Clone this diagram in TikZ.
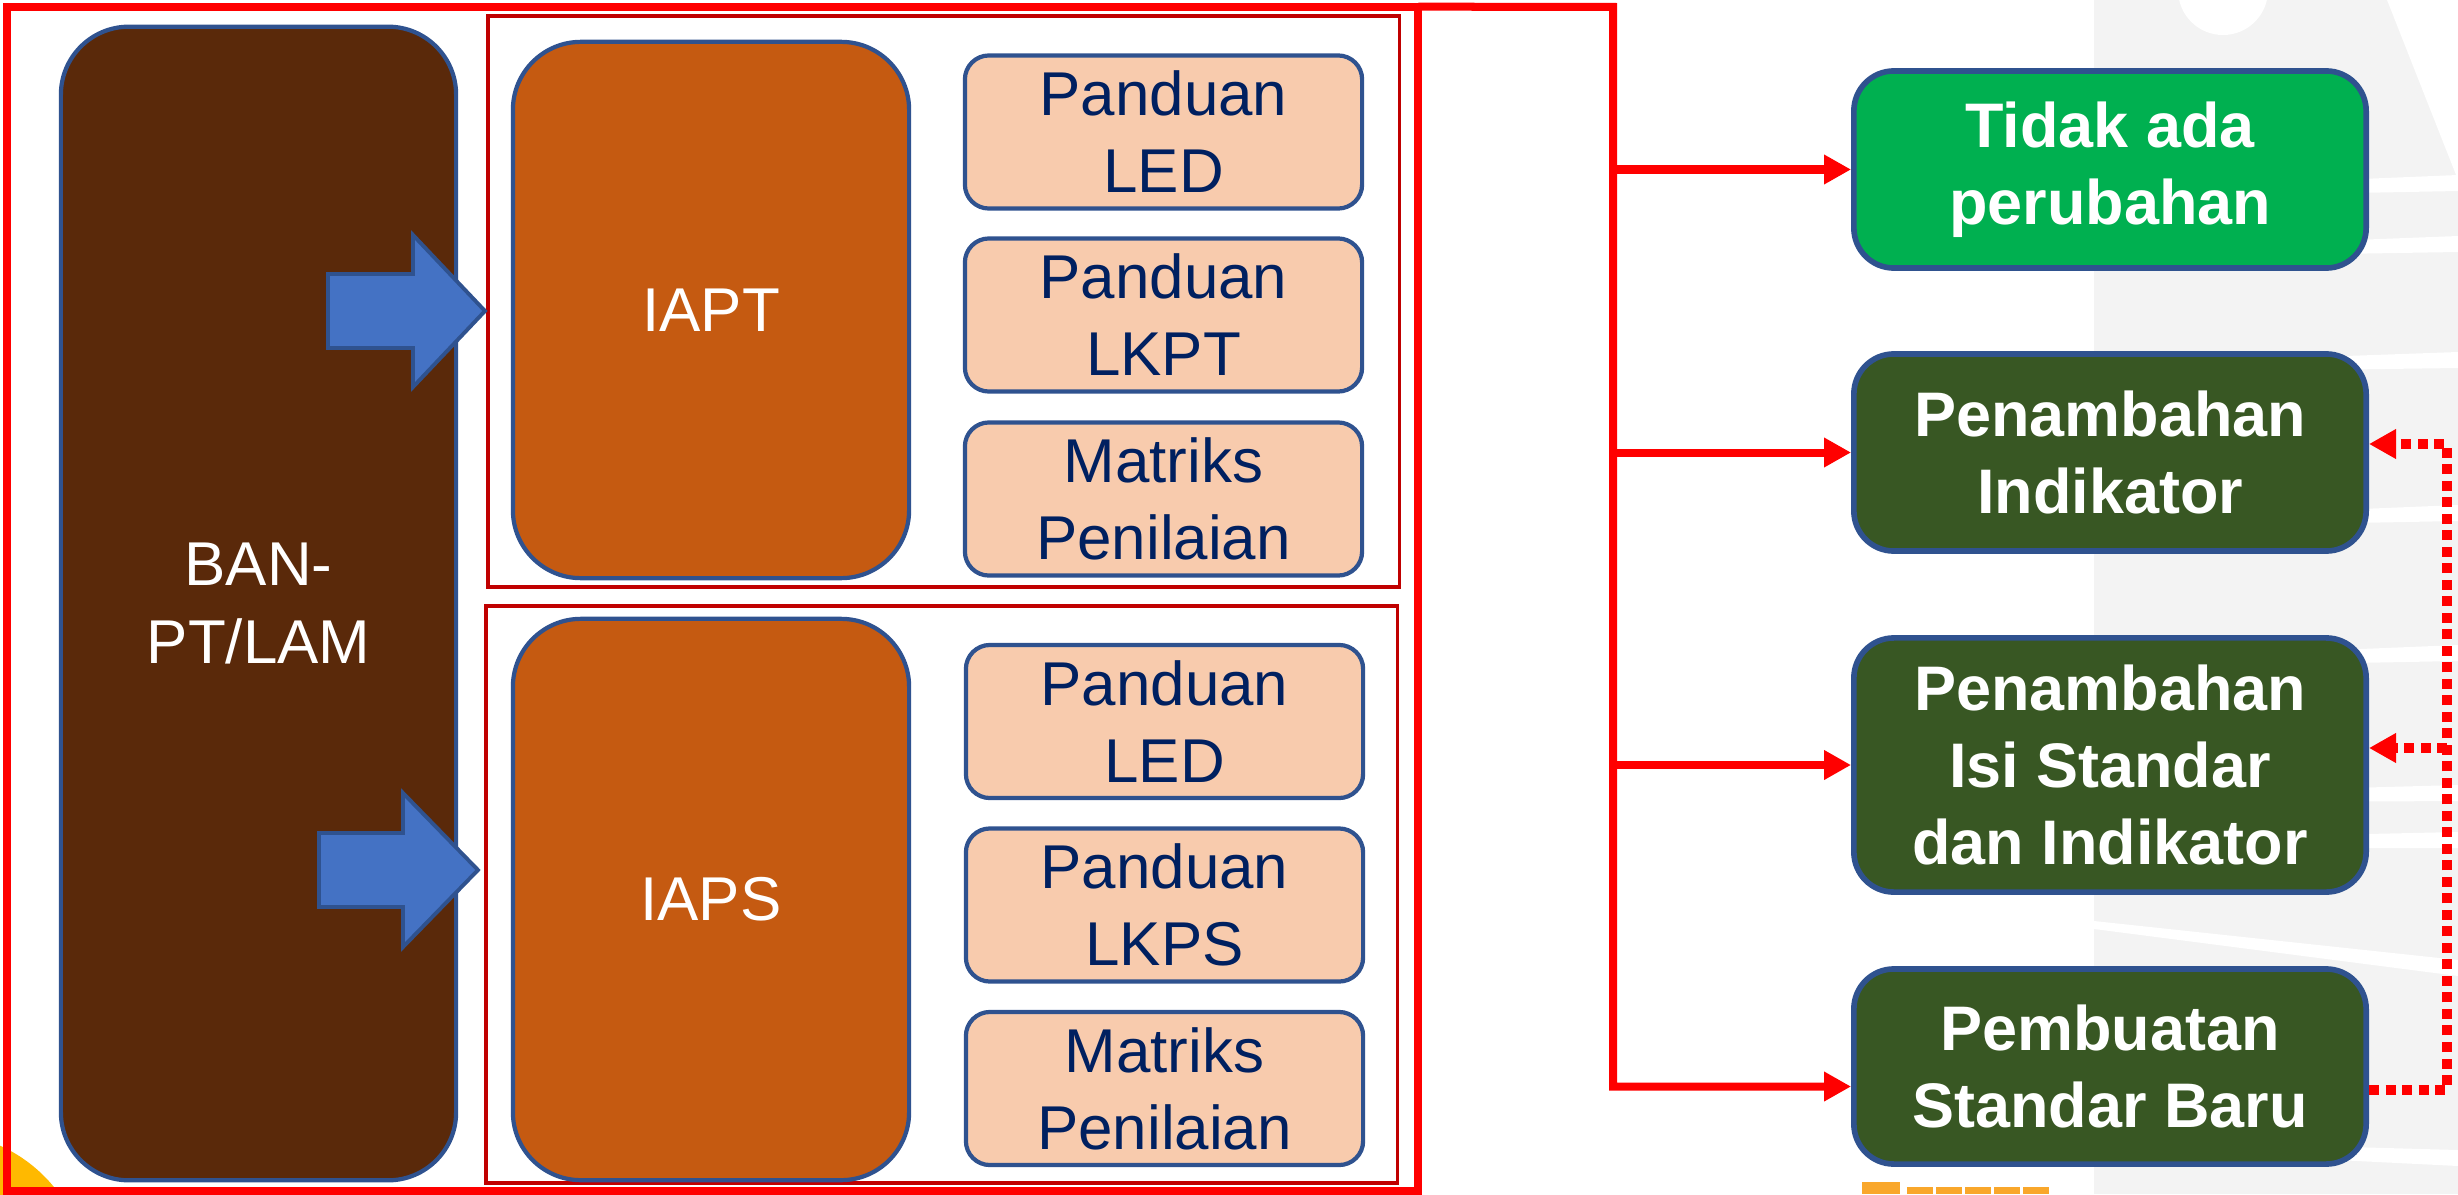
\documentclass[tikz,border=0pt]{standalone}
\usepackage{xcolor}
\usepackage{fontspec}
\setmainfont{Liberation Sans}
\usepackage{tikz}
\usetikzlibrary{positioning,arrows.meta}

\definecolor{banbrown}{HTML}{5A290A}
\definecolor{iaorange}{HTML}{C55A11}
\definecolor{peach}{HTML}{F8CBAD}
\definecolor{navy}{HTML}{002060}
\definecolor{edgeblue}{HTML}{2F528F}
\definecolor{arrowblue}{HTML}{4472C4}
\definecolor{okgreen}{HTML}{00B050}
\definecolor{darkgreen}{HTML}{385723}
\definecolor{darkred}{HTML}{C00000}
\definecolor{wmgray}{HTML}{F3F3F3}
\definecolor{logoorange}{HTML}{F9A72B}
\definecolor{sunyellow}{HTML}{FFB900}

\begin{document}
\begin{tikzpicture}[x=0.01cm, y=-0.01cm,
  txt/.style={font=\fontsize{17.6}{21.9}\selectfont, align=center, inner sep=0pt},
  tall/.style={txt, draw=edgeblue, line width=1.2pt, rounded corners=0.68cm, text=white},
  doc/.style={txt, draw=edgeblue, line width=1.2pt, fill=peach, rounded corners=0.24cm, text=navy, minimum width=3.97cm, minimum height=1.53cm},
  choice/.style={txt, draw=edgeblue, line width=1.6pt, rounded corners=0.4cm, text=white, font=\fontsize{17.9}{21.9}\selectfont\bfseries, minimum width=5.12cm},
  group/.style={draw=darkred, line width=1pt, inner sep=0pt},
  feed/.style={red, line width=0.8mm, -{Triangle[length=2.7mm,width=2.8mm]}},
  back/.style={feed, line width=1mm, dash pattern=on 1mm off 0.65mm},
  blockarrow/.style={draw=edgeblue, fill=arrowblue, line width=1.1pt, line join=miter}]
\useasboundingbox (0,0) rectangle (2458,1194);

% faint background marks
\fill[wmgray] (2094,0) rectangle (2458,1194);
\fill[white] (2223,-10) circle[radius=0.45cm];
\fill[white] (2387,0) -- (2458,0) -- (2458,180) -- cycle;
\foreach \a/\b in {190/175, 250/236, 365/352, 520/505, 660/645, 795/785, 840/832, 921/960, 1140/1150}
  \fill[white] (2094,\a) -- (2458,\b) -- (2458,\b+16) -- (2094,\a+8) -- cycle;
\begin{scope}
\clip (0,0) rectangle (2458,1194);
\fill[sunyellow] (-60,1280) circle[radius=1.47cm];
\end{scope}
\fill[logoorange] (1862,1182) rectangle (1900,1194);
\foreach \i in {0,...,4}
  \fill[logoorange] (1907+29*\i,1187) rectangle (1933+29*\i,1194);

% left block
\node[draw=red, line width=0.8mm, inner sep=0pt, outer sep=0pt, minimum width=14.11cm, minimum height=11.84cm] (frame) at (712.5,599) {};
\node[group, minimum width=9.11cm, minimum height=5.71cm] (grp_pt) at (943.5,301.5) {};
\node[group, minimum width=9.11cm, minimum height=5.77cm] (grp_ps) at (941.5,894.5) {};

\node[tall, fill=banbrown, minimum width=3.95cm, minimum height=11.53cm] (ban) at (258.5,603.5) {BAN-\\PT/LAM};
\node[tall, fill=iaorange, minimum width=3.96cm, minimum height=5.36cm] (iapt) at (711,310) {IAPT};
\node[tall, fill=iaorange, minimum width=3.96cm, minimum height=5.61cm] (iaps) at (711,899.5) {IAPS};

\node[doc] (led_pt) at (1163.5,132) {Panduan\\LED};
\node[doc] (lkpt) at (1163.5,315) {Panduan\\LKPT};
\node[doc] (matriks_pt) at (1163.5,499) {Matriks\\Penilaian};
\node[doc] (led_ps) at (1164.5,721.5) {Panduan\\LED};
\node[doc] (lkps) at (1164.5,905) {Panduan\\LKPS};
\node[doc] (matriks_ps) at (1164.5,1088.5) {Matriks\\Penilaian};

\draw[blockarrow] (328,274) -- (413,274) -- (413,235) -- (485,311) -- (413,387) -- (413,348) -- (328,348) -- cycle;
\draw[blockarrow] (319,833) -- (403,833) -- (403,793) -- (478,870) -- (403,947) -- (403,907) -- (319,907) -- cycle;

% right block
\node[choice, fill=okgreen, minimum height=1.97cm] (tetap) at (2110,169.5) {Tidak ada\\perubahan};
\node[choice, fill=darkgreen, minimum height=1.97cm] (tambah_ind) at (2110,452.5) {Penambahan\\Indikator};
\node[choice, fill=darkgreen, minimum height=2.54cm] (tambah_std) at (2110,765) {Penambahan\\Isi Standar\\dan Indikator};
\node[choice, fill=darkgreen, minimum height=1.95cm] (std_baru) at (2110,1066.5) {Pembuatan\\Standar Baru};

\coordinate (trunk) at (1613,7);
\draw[feed] (frame.north east) -- (trunk) |- ([yshift=-2mm]std_baru.west);
\draw[feed] (trunk |- tetap.west) -- (tetap.west);
\draw[feed] (trunk |- tambah_ind.west) -- (tambah_ind.west);
\draw[feed] (trunk |- tambah_std.west) -- (tambah_std.west);

\coordinate (in_std) at ([yshift=1.7mm]tambah_std.east);
\draw[back] ([yshift=-2.3mm]std_baru.east) -- ++(7.8mm,0) coordinate (loop) |- ([yshift=0.85mm]tambah_ind.east);
\draw[back] (loop |- in_std) -- (in_std);

\end{tikzpicture}
\end{document}
